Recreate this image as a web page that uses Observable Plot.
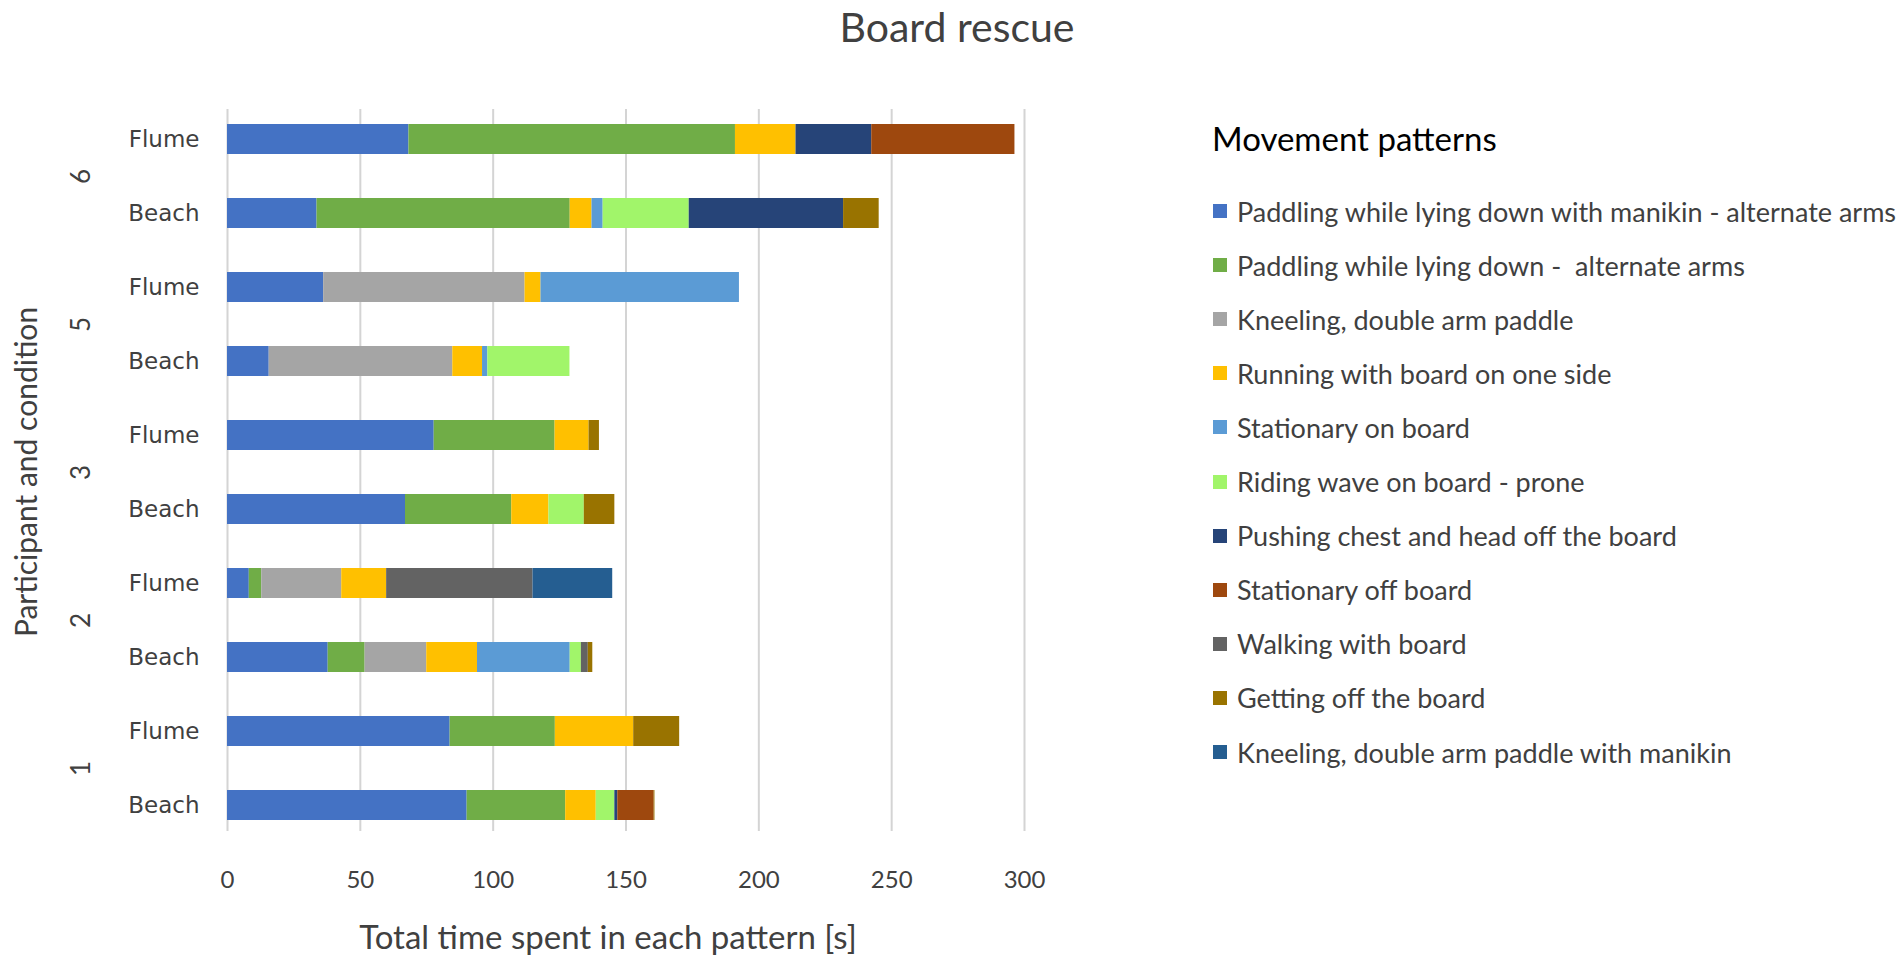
<!DOCTYPE html>
<html>
<head>
<meta charset="utf-8">
<script src="https://cdn.jsdelivr.net/npm/d3@7"></script>
<script src="https://cdn.jsdelivr.net/npm/@observablehq/plot@0.6"></script>
<style>
  body { margin: 0; background: #fff; }
  #wrap { position: relative; width: 1902px; height: 963px; overflow: hidden; font-family: Lato, sans-serif; }
  #title { position: absolute; left: 0; width: 1914px; top: 6px; line-height: 42px; text-align: center; font-size: 41px; color: #404040; }
  #chart { position: absolute; left: 0; top: 0; }
  #legend { position: absolute; left: 1213px; top: 0; }
  #legend .lt { position: absolute; top: 120px; left: -1px; font-size: 33px; line-height: 36px; color: #000; white-space: nowrap; }
  #legend .it { position: absolute; left: 0; height: 32px; display: flex; align-items: center; white-space: nowrap; font-size: 27px; color: #404040; }
  #legend .sw { width: 14px; height: 14px; margin-right: 10px; display: inline-block; flex: none; }
</style>
</head>
<body>
<div id="wrap">
  <div id="title">Board rescue</div>
  <div id="chart"></div>
  <div id="legend"></div>
</div>
<script>
// Rows, top to bottom
const participants = ["6", "6", "5", "5", "3", "3", "2", "2", "1", "1"];
const conditions = ["Flume", "Beach", "Flume", "Beach", "Flume", "Beach", "Flume", "Beach", "Flume", "Beach"];

const patterns = [
  "Paddling while lying down with manikin - alternate arms",
  "Paddling while lying down -  alternate arms",
  "Kneeling, double arm paddle",
  "Running with board on one side",
  "Stationary on board",
  "Riding wave on board - prone",
  "Pushing chest and head off the board",
  "Stationary off board",
  "Walking with board",
  "Getting off the board",
  "Kneeling, double arm paddle with manikin"
];
const colors = ["#4472C4", "#70AD47", "#A5A5A5", "#FFC000", "#5B9BD5", "#A1F56A",
                "#264478", "#9E480E", "#636363", "#997300", "#255E91"];

// Seconds per pattern, same row order as above
const paddlingManikin = [68.3, 33.7, 36.2, 15.7, 77.8, 67.0, 8.2, 37.9, 83.8, 90.2];
const paddlingLying   = [122.9, 95.3, 0, 0, 45.5, 40.0, 4.7, 13.9, 39.6, 37.1];
const kneeling        = [0, 0, 75.8, 69.1, 0, 0, 30.1, 23.2, 0, 0];
const running         = [22.8, 8.2, 6.0, 11.2, 12.8, 14.0, 16.9, 19.1, 29.5, 11.5];
const stationaryOn    = [0, 4.2, 74.7, 2.0, 0, 0, 0, 34.9, 0, 0];
const ridingWave      = [0, 32.4, 0, 30.9, 0, 13.3, 0, 4.2, 0, 7.0];
const pushingChest    = [28.5, 58.1, 0, 0, 0, 0, 0, 0, 0, 1.1];
const stationaryOff   = [53.9, 0, 0, 0, 0, 0, 0, 0, 0, 13.7];
const walking         = [0, 0, 0, 0, 0, 0, 55.1, 2.6, 0, 0];
const gettingOff      = [0, 13.4, 0, 0, 3.9, 11.5, 0, 1.7, 17.3, 0.3];
const kneelingManikin = [0, 0, 0, 0, 0, 0, 30.0, 0, 0, 0];

const xTicks = [0, 50, 100, 150, 200, 250, 300];

const series = [paddlingManikin, paddlingLying, kneeling, running, stationaryOn, ridingWave,
                pushingChest, stationaryOff, walking, gettingOff, kneelingManikin];

const keys = participants.map((p, i) => p + "|" + conditions[i]);
const table = [];
series.forEach((vals, j) => vals.forEach((v, i) => {
  if (v > 0) table.push({key: keys[i], pattern: patterns[j], value: v});
}));
const participantRows = keys.filter((k, i) => conditions[i] === "Beach")
  .map(k => ({key: k, p: k.split("|")[0]}));

const chart = Plot.plot({
  width: 1060,
  height: 963,
  marginLeft: 227,
  marginRight: 36,
  marginTop: 101,
  marginBottom: 121,
  style: {fontFamily: "Lato, sans-serif", color: "#404040", background: "transparent", overflow: "visible"},
  x: {domain: [0, 300], label: null},
  y: {domain: keys, paddingInner: 0.6, paddingOuter: 0.3, label: null},
  color: {domain: patterns, range: colors},
  marks: [
    Plot.ruleX(xTicks, {stroke: "#d4d4d4", strokeWidth: 2, insetTop: 8, insetBottom: 11}),
    Plot.barX(table, Plot.stackX({y: "key", x: "value", fill: "pattern"})),
    Plot.axisX({ticks: xTicks, tickSize: 0, tickPadding: 28, fontSize: 24, label: null}),
    Plot.axisY({tickSize: 0, tickPadding: 28, fontSize: 23, fontFamily: "DejaVu Sans",
                tickFormat: k => k.split("|")[1], label: null}),
    Plot.text(participantRows, {y: "key", text: "p", frameAnchor: "left", dx: -146, dy: -37,
                                rotate: -90, fontSize: 26, fill: "#404040",
                                textAnchor: "middle", lineAnchor: "middle"}),
    Plot.text(["Participant and condition"], {frameAnchor: "left", dx: -200, rotate: -90,
                                              fontSize: 30, fill: "#404040",
                                              textAnchor: "middle", lineAnchor: "middle"}),
    Plot.text(["Total time spent in each pattern [s]"], {frameAnchor: "bottom", dx: -18, dy: 96,
                                                        fontSize: 33, fill: "#404040",
                                                        textAnchor: "middle", lineAnchor: "middle"})
  ]
});
document.getElementById("chart").appendChild(chart);

// Legend
const legend = document.getElementById("legend");
const lt = document.createElement("div");
lt.className = "lt";
lt.textContent = "Movement patterns";
legend.appendChild(lt);
patterns.forEach((p, i) => {
  const it = document.createElement("div");
  it.className = "it";
  it.style.top = (211 - 16 + i * 54.1) + "px";
  const sw = document.createElement("span");
  sw.className = "sw";
  sw.style.background = colors[i];
  const tx = document.createElement("span");
  tx.textContent = p;
  tx.style.whiteSpace = "pre";
  it.appendChild(sw);
  it.appendChild(tx);
  legend.appendChild(it);
});
</script>
</body>
</html>
